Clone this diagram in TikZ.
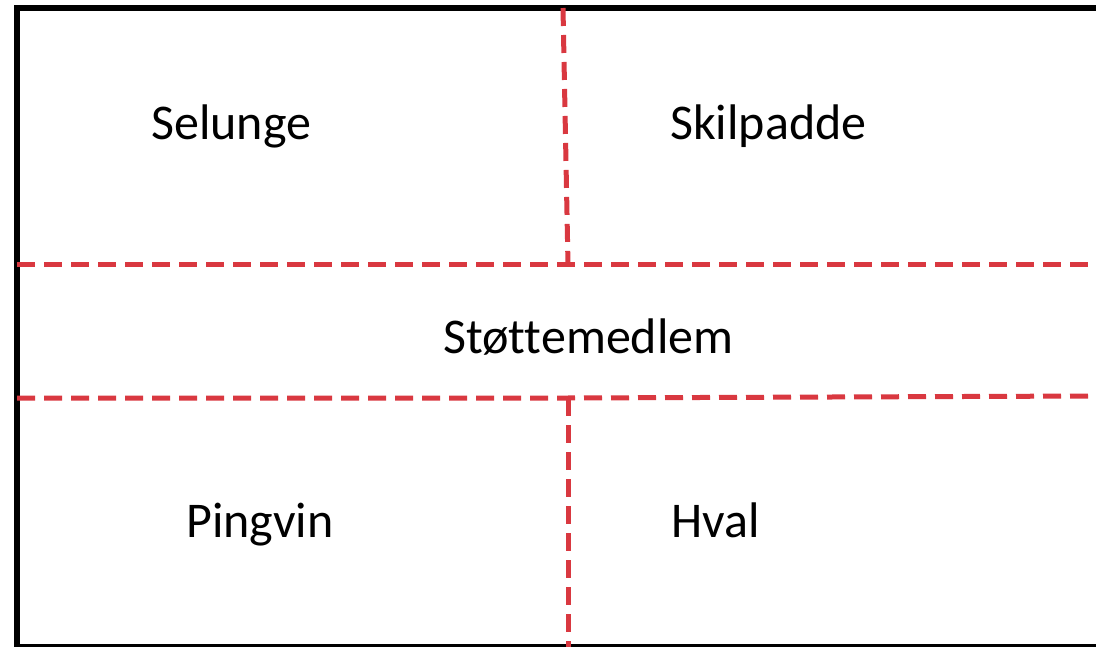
\documentclass[tikz,border=0pt]{standalone}
\usepackage{fontspec}
\setmainfont{Carlito}[Ligatures=NoCommon]
\definecolor{skillered}{RGB}{217,56,64}
\begin{document}
\begin{tikzpicture}[x=1pt,y=-1pt]
\tikzset{divider/.style = {draw=skillered, line width=5pt, dash pattern=on 18pt off 9pt},
         frame/.style = {draw=black, line width=6pt},
         area/.style = {anchor=base west, inner sep=0pt, font=\fontsize{50}{60}\selectfont}}
\useasboundingbox (0,0) rectangle (1096,647);
\begin{scope}
\clip (0,0) rectangle (1096,647);
\draw[frame] (17,8) rectangle (1110,647);
\end{scope}
% fields
\coordinate (topmid) at (563,8);
\coordinate (uppermid) at (568,265);
\coordinate (lowermid) at (568,398);
\coordinate (botmid) at (568,647);
\draw[divider] (17,265) -- (uppermid) -- (1096,265);
\draw[divider] (topmid) -- (uppermid);
\draw[divider] (17,398) -- (lowermid) -- (1096,396);
\draw[divider] (lowermid) -- (botmid);
\node[area] (selunge) at (151,140) {Selunge};
\node[area] (skilpadde) at (670,140) {Skilpadde};
\node[area] (stotte) at (443,353) {Støttemedlem};
\node[area] (pingvin) at (186,537) {Pingvin};
\node[area] (hval) at (671,537) {Hval};
\end{tikzpicture}
\end{document}
